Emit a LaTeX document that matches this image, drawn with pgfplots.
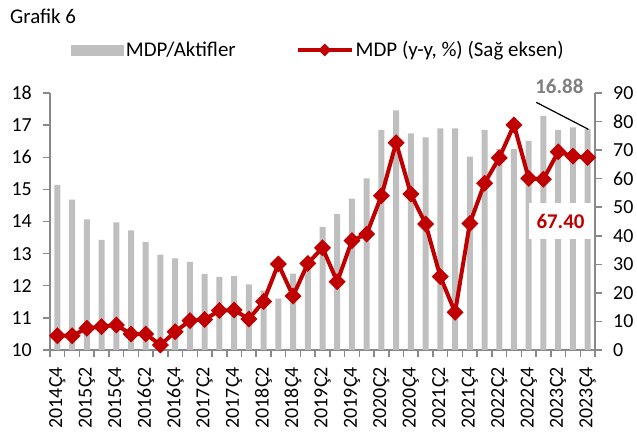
\documentclass[border=0pt]{standalone}
\usepackage{fontspec}
\setmainfont{Carlito}
\usepackage{pgfplots}
\pgfplotsset{compat=1.18}
\usepackage{pgfplotstable}
\definecolor{barg}{HTML}{BFBFBF}
\definecolor{lred}{HTML}{C00000}
\definecolor{axg}{HTML}{898989}
\definecolor{lblg}{HTML}{7F7F7F}

\pgfplotsset{
  barleg/.style={legend image code/.code={\fill[barg] (0bp,-5.5bp) rectangle (53bp,5.5bp);}},
  lineleg/.style={legend image code/.code={\draw[mark repeat=2,mark phase=2,##1] plot coordinates {(0bp,0bp) (27bp,0bp) (54bp,0bp)};}},
}

\pgfplotstableread{
x bar line
0 15.14 5.0
1 14.68 5.0
2 14.07 7.6
3 13.43 8.2
4 13.97 8.75
5 13.72 5.6
6 13.36 5.6
7 12.97 1.75
8 12.85 6.4
9 12.74 10.3
10 12.36 10.7
11 12.28 13.8
12 12.30 14.0
13 12.04 10.85
14 11.85 17.0
15 11.60 30.1
16 12.38 18.9
17 12.80 30.3
18 13.83 35.8
19 14.23 23.9
20 14.71 38.3
21 15.34 40.6
22 16.85 54.0
23 17.46 72.6
24 16.74 54.6
25 16.62 44.1
26 16.90 25.7
27 16.90 13.2
28 16.02 44.3
29 16.85 58.4
30 16.25 67.3
31 16.25 78.8
32 16.51 60.1
33 17.29 59.8
34 16.85 69.4
35 16.93 67.9
36 16.88 67.4
}\data

\newcommand{\fs}{\fontsize{20}{24}\selectfont}
\newcommand{\fl}{\fontsize{21}{25}\selectfont}

\begin{document}
\begin{tikzpicture}
\useasboundingbox (0,0) rectangle (637bp,434bp);
\begin{axis}[
  at={(50bp,84bp)}, anchor=south west,
  scale only axis, width=545bp, height=257bp,
  xmin=-0.5, xmax=36.5, ymin=10, ymax=18,
  axis x line*=bottom, axis y line*=left,
  axis line style={draw=axg, line width=1.5bp},
  ytick={10,11,...,18},
  xtick={0,2,...,36},
  xticklabels={2014Ç4,2015Ç2,2015Ç4,2016Ç2,2016Ç4,2017Ç2,2017Ç4,2018Ç2,2018Ç4,2019Ç2,2019Ç4,2020Ç2,2020Ç4,2021Ç2,2021Ç4,2022Ç2,2022Ç4,2023Ç2,2023Ç4},
  minor xtick={-0.5,0.5,...,36.5},
  tick align=outside,
  major tick length=7bp, minor tick length=7bp,
  major x tick style={draw=none},
  every tick/.style={draw=axg, line width=1.5bp},
  ticklabel style={font=\fs},
  /pgf/number format/assume math mode=true,
  xticklabel style={rotate=90, anchor=east, inner sep=0pt},
  yticklabel style={inner sep=0pt},
  xticklabel shift=10bp,
  yticklabel shift=11bp,
  clip=false,
  legend columns=2,
  legend cell align=left,
  legend style={draw=none, fill=none, inner sep=0pt, outer sep=0pt,
    at={(0.0385,1.167)}, anchor=west, font=\fl,
    /tikz/every even column/.append style={column sep=58bp}},
]
\addplot[ybar, bar width=6bp, fill=barg, draw=none, barleg]
  table[x=x,y=bar]{\data};
\addlegendentry{MDP/Aktifler}
\addlegendimage{lred, line width=4bp, mark=square*, mark size=4bp,
  mark options={rotate=45, line width=1bp, fill=lred}, lineleg}
\addlegendentry{MDP (y-y, \%) (Sağ eksen)}
\node[fill=white, minimum width=62.4bp, minimum height=36bp, inner sep=0pt,
  text=lred, font=\bfseries\fl] at (axis cs:34.16,14.0) {67.40};
\node[text=lblg, font=\bfseries\fl, inner sep=0pt] at (axis cs:34.08,18.196) {16.88};
\draw[black, line width=1.2bp] (axis cs:32.51,17.71) -- (axis cs:36.05,16.87);
\end{axis}
\begin{axis}[
  at={(50bp,84bp)}, anchor=south west,
  scale only axis, width=545bp, height=257bp,
  xmin=-0.5, xmax=36.5, ymin=0, ymax=90,
  axis x line=none, axis y line*=right,
  axis line style={draw=axg, line width=1.5bp},
  ytick={0,10,...,90},
  tick align=outside,
  major tick length=7bp,
  every tick/.style={draw=axg, line width=1.5bp},
  ticklabel style={font=\fs},
  /pgf/number format/assume math mode=true,
  yticklabel style={inner sep=0pt},
  yticklabel shift=11bp,
  clip=false,
]
\addplot[lred, line width=4bp, mark=square*, mark size=5.5bp,
  mark options={rotate=45, line width=1bp, fill=lred}]
  table[x=x,y=line]{\data};
\end{axis}
\node[anchor=base west, inner sep=0pt, font=\fl] at (10bp,410bp) {Grafik 6};
\end{tikzpicture}
\end{document}
